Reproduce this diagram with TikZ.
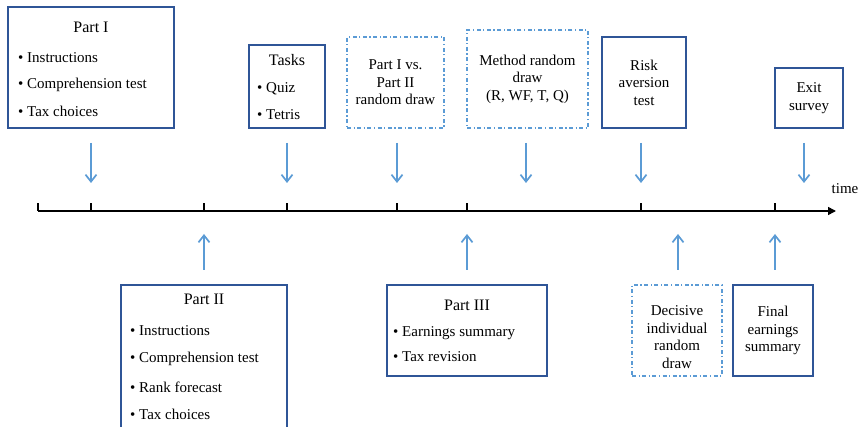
\documentclass[tikz,border=0pt]{standalone}
\usepackage{fontspec}
\setmainfont{Liberation Serif}
\usetikzlibrary{arrows.meta}
\definecolor{framecol}{RGB}{47,85,151}
\definecolor{cuecol}{RGB}{91,155,213}
\def\drawcue{\draw[color=cuecol, line width=1.7pt, -{Straight Barb[length=7pt,width=11pt]}]}
\def\stagebox{\node[draw=framecol, line width=1.8pt, inner sep=0pt, align=center]}
\def\drawbox{\node[draw=cuecol, line width=1.3pt, dash pattern=on 4pt off 2.5pt on 1.2pt off 2.5pt, inner sep=0pt, align=center]}
\def\itemnode{\node[anchor=west, inner sep=0pt]}
\def\titlenode{\node[font=\fontsize{16}{18}\selectfont]}

\begin{document}
\begin{tikzpicture}[x=1pt,y=-1pt,font=\fontsize{15}{17.5}\selectfont]
\useasboundingbox (0,0) rectangle (863,427);
\clip (0,0) rectangle (863,427);
% stages above the time line
\stagebox[minimum width=166, minimum height=121] (partI) at (91,67.5) {};
\titlenode (partIt) at (91,27) {Part I};
\itemnode (partIa) at (18,58) {\textbullet\ Instructions};
\itemnode (partIb) at (18,85) {\textbullet\ Comprehension test};
\itemnode (partIc) at (18,111) {\textbullet\ Tax choices};
\stagebox[minimum width=76, minimum height=83] (tasks) at (287,86.5) {};
\titlenode (taskst) at (287,60) {Tasks};
\itemnode (tasksa) at (257,89) {\textbullet\ Quiz};
\itemnode (tasksb) at (257,115) {\textbullet\ Tetris};
\drawbox[minimum width=97, minimum height=91] (vsdraw) at (395.5,82.5) {Part I vs.\\Part II\\random draw};
\drawbox[minimum width=121, minimum height=98] (methdraw) at (527.5,79) {Method random\\draw\\(R, WF, T, Q)};
\stagebox[minimum width=84, minimum height=91] (risk) at (644,82.5) {Risk\\aversion\\test};
\stagebox[minimum width=68, minimum height=60] (exit) at (809,98) {Exit\\survey};
% stages below the time line
\stagebox[minimum width=166, minimum height=160] (partII) at (204,365) {};
\titlenode (partIIt) at (204,299) {Part II};
\itemnode (partIIa) at (130,331) {\textbullet\ Instructions};
\itemnode (partIIb) at (130,359) {\textbullet\ Comprehension test};
\itemnode (partIIc) at (130,387) {\textbullet\ Rank forecast};
\itemnode (partIId) at (130,414) {\textbullet\ Tax choices};
\stagebox[minimum width=160, minimum height=91] (partIII) at (467,330.5) {};
\titlenode (partIIIt) at (467,305) {Part III};
\itemnode (partIIIa) at (393,333) {\textbullet\ Earnings summary};
\itemnode (partIIIb) at (393,357) {\textbullet\ Tax revision};
\drawbox[minimum width=90, minimum height=91] (decdraw) at (677,330.5) {};
\node[align=center] (dectext) at (677,337) {Decisive\\individual\\random\\draw};
\stagebox[minimum width=80, minimum height=91] (final) at (773,330.5) {Final\\earnings\\summary};
% time line
\coordinate (tstart) at (38,211);
\coordinate (tend) at (836,211);
\draw[line width=1.5pt, -{Triangle[length=8pt,width=8pt]}] (tstart) -- (tend);
\node (timelab) at (845,189) {time};
\foreach \x in {38,91,204,287,397,467,641,775}
  \draw[line width=1.4pt] (\x,211) -- (\x,203);
% cues
\foreach \x [count=\i] in {91,287,397,526,641,804} {
  \coordinate (dn\i s) at (\x,143);
  \coordinate (dn\i e) at (\x,183);
  \drawcue (dn\i s) -- (dn\i e);
}
\foreach \x [count=\i] in {204,467,678,775} {
  \coordinate (up\i s) at (\x,270);
  \coordinate (up\i e) at (\x,234);
  \drawcue (up\i s) -- (up\i e);
}
\end{tikzpicture}
\end{document}
